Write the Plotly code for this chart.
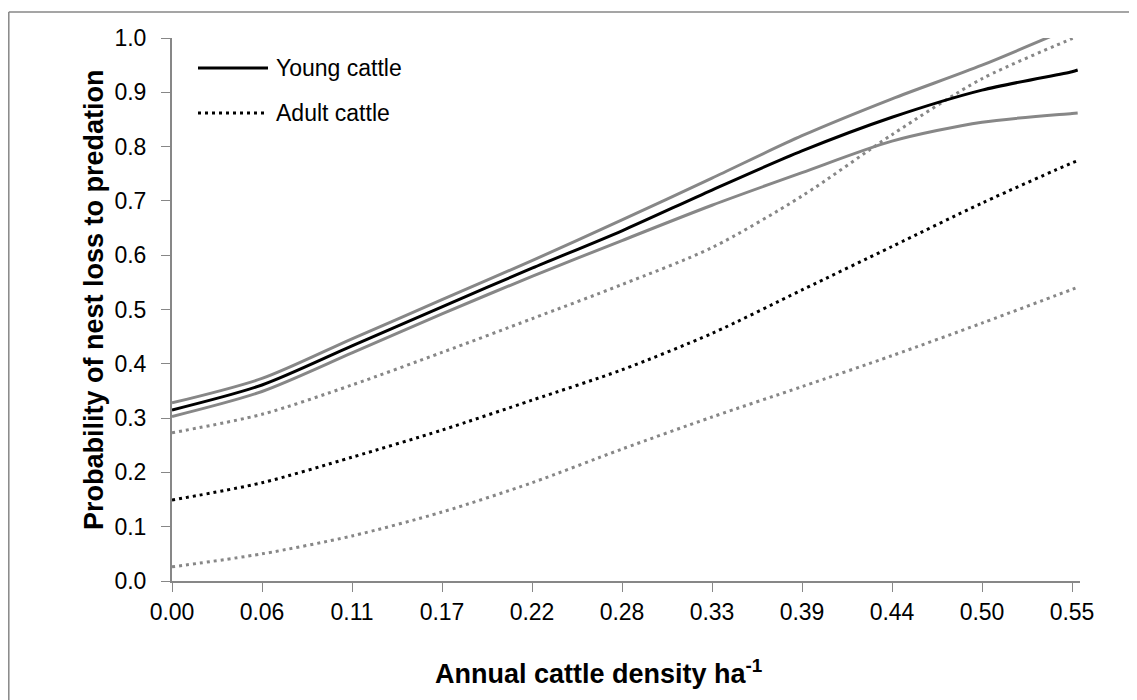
import plotly.graph_objects as go

# ---- data ----
density = [0, 0.0555, 0.111, 0.1665, 0.222, 0.2775, 0.333, 0.3885, 0.444, 0.4995, 0.555, 0.5585]
tick_vals = [0, 0.0555, 0.111, 0.1665, 0.222, 0.2775, 0.333, 0.3885, 0.444, 0.4995, 0.555]
tick_text = ["0.00", "0.06", "0.11", "0.17", "0.22", "0.28", "0.33", "0.39", "0.44", "0.50", "0.55"]
y_ticks = [0.0, 0.1, 0.2, 0.3, 0.4, 0.5, 0.6, 0.7, 0.8, 0.9, 1.0]

young = [0.315, 0.361, 0.433, 0.505, 0.576, 0.645, 0.720, 0.792, 0.854, 0.904, 0.938, 0.941]
young_hi = [0.328, 0.373, 0.446, 0.518, 0.590, 0.665, 0.742, 0.820, 0.888, 0.950, 1.020, 1.025]
young_lo = [0.303, 0.349, 0.420, 0.492, 0.561, 0.627, 0.692, 0.752, 0.810, 0.845, 0.861, 0.862]

adult = [0.149, 0.181, 0.228, 0.278, 0.333, 0.389, 0.456, 0.536, 0.616, 0.696, 0.770, 0.774]
adult_hi = [0.273, 0.307, 0.361, 0.421, 0.483, 0.546, 0.614, 0.709, 0.822, 0.925, 0.999, 1.004]
adult_lo = [0.026, 0.050, 0.083, 0.127, 0.181, 0.243, 0.302, 0.358, 0.415, 0.475, 0.537, 0.541]

GRAY = "#878787"
FONT = "Liberation Sans, Arial, sans-serif"
DOT = "3px,4px"

fig = go.Figure()

def add(y, color, dash):
    fig.add_trace(go.Scatter(x=density, y=y, mode="lines",
                             line=dict(color=color, width=3, dash=dash, shape="spline", smoothing=0.8),
                             showlegend=False, hoverinfo="skip"))

add(adult_lo, GRAY, DOT)
add(adult_hi, GRAY, DOT)
add(adult, "#000000", DOT)
add(young_lo, GRAY, "solid")
add(young_hi, GRAY, "solid")
add(young, "#000000", "solid")

# page body has an 8px margin, so the figure is placed at (8, 8)
OFF = 8
W, H = 1129, 692
L, T = 172 - OFF, 38 - OFF
pw, ph = 908, 543
R = W - L - pw
B = H - T - ph

def px(x):
    return (x - OFF - L) / pw

def py(y):
    return (H - B - (y - OFF)) / ph

shapes = [
    # outer frame (top and left visible)
    dict(type="line", xref="paper", yref="paper", x0=px(8.8), x1=px(1145), y0=py(12), y1=py(12),
         line=dict(color=GRAY, width=1.5)),
    dict(type="line", xref="paper", yref="paper", x0=px(8.8), x1=px(8.8), y0=py(12), y1=py(710),
         line=dict(color=GRAY, width=1.5)),
    # legend samples
    dict(type="line", xref="paper", yref="paper", x0=px(198), x1=px(268), y0=py(68), y1=py(68),
         line=dict(color="#000000", width=3)),
    dict(type="line", xref="paper", yref="paper", x0=px(198), x1=px(268), y0=py(113), y1=py(113),
         line=dict(color="#000000", width=3, dash=DOT)),
]

annotations = [
    dict(text="Young cattle", xref="paper", yref="paper", x=px(274), y=py(68), xanchor="left",
         yanchor="middle", showarrow=False, font=dict(family=FONT, size=23, color="#000000")),
    dict(text="Adult cattle", xref="paper", yref="paper", x=px(274), y=py(113), xanchor="left",
         yanchor="middle", showarrow=False, font=dict(family=FONT, size=23, color="#000000")),
    dict(text="<b>Annual cattle density ha<sup>-1</sup></b>", xref="paper", yref="paper",
         x=px(598), y=py(672), xanchor="center", yanchor="middle", showarrow=False,
         font=dict(family=FONT, size=27, color="#000000")),
    dict(text="<b>Probability of nest loss to predation</b>", xref="paper", yref="paper",
         x=px(94), y=py(300), xanchor="center", yanchor="middle", showarrow=False, textangle=-90,
         font=dict(family=FONT, size=27, color="#000000")),
]

fig.update_layout(
    width=W, height=H,
    margin=dict(l=L, r=R, t=T, b=B),
    paper_bgcolor="white", plot_bgcolor="white",
    shapes=shapes, annotations=annotations,
    showlegend=False,
    font=dict(family=FONT, size=23, color="#000000"),
)
fig.update_xaxes(range=[0, 0.555 * 908 / 900], tickmode="array", tickvals=tick_vals, ticktext=tick_text,
                 showgrid=False, zeroline=False, showline=True, linecolor=GRAY, linewidth=2,
                 ticks="outside", ticklen=9, tickcolor=GRAY, tickwidth=1,
                 tickfont=dict(family=FONT, size=23, color="#000000"))
fig.update_yaxes(range=[0, 1], tickmode="array", tickvals=y_ticks,
                 ticktext=[f"{v:.1f}" for v in y_ticks],
                 showgrid=False, zeroline=False, showline=True, linecolor=GRAY, linewidth=2,
                 ticks="outside", ticklen=9, tickcolor=GRAY, tickwidth=1, ticklabelstandoff=10,
                 tickfont=dict(family=FONT, size=23, color="#000000"))

fig.write_html("out.html")
